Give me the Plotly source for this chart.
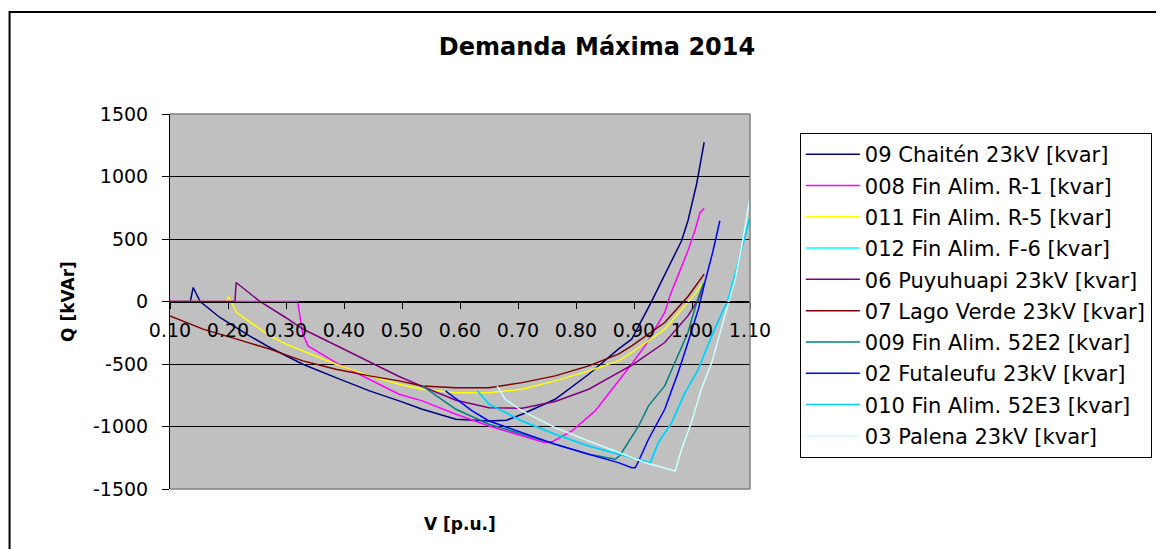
import plotly.graph_objects as go

# ---------------- data ----------------
names = [
    "09 Chaitén 23kV [kvar]",
    "008 Fin Alim. R-1 [kvar]",
    "011 Fin Alim. R-5 [kvar]",
    "012 Fin Alim. F-6 [kvar]",
    "06 Puyuhuapi 23kV [kvar]",
    "07 Lago Verde 23kV [kvar]",
    "009 Fin Alim. 52E2 [kvar]",
    "02 Futaleufu 23kV [kvar]",
    "010 Fin Alim. 52E3 [kvar]",
    "03 Palena 23kV [kvar]",
]
colors = ["#000080", "#FF00FF", "#FFFF00", "#00FFFF", "#800080",
          "#800000", "#008080", "#0000FF", "#00CCFF", "#CCFFFF"]

chaiten_v = [0.10, 0.135, 0.140, 0.152, 0.186, 0.237, 0.272, 0.329, 0.386, 0.444, 0.495, 0.535,
             0.593, 0.650, 0.680, 0.707, 0.764, 0.822, 0.873, 0.896, 0.928, 0.959, 0.982, 0.993,
             1.008, 1.021]
chaiten_q = [0, 0, 112, 0, -128, -275, -368, -502, -609, -715, -795, -862,
             -942, -956, -950, -902, -782, -582, -381, -301, -21, 272, 486, 646,
             940, 1274]

r1_v = [0.10, 0.320, 0.329, 0.338, 0.386, 0.444, 0.495, 0.535, 0.593, 0.650, 0.707, 0.747,
        0.760, 0.793, 0.833, 0.873, 0.896, 0.919, 0.953, 0.962, 0.979, 0.993, 1.005, 1.014, 1.021]
r1_q = [0, 0, -261, -355, -489, -622, -742, -795, -902, -996, -1076, -1129,
        -1120, -1036, -875, -640, -500, -355, -88, 46, 246, 406, 566, 713, 745]

r5_v = [0.10, 0.198, 0.201, 0.215, 0.243, 0.272, 0.300, 0.329, 0.386, 0.444, 0.495, 0.535,
        0.593, 0.650, 0.707, 0.764, 0.822, 0.873, 0.896, 0.953, 0.993, 1.005, 1.019]
r5_q = [0, 0, 40, -88, -181, -275, -341, -395, -502, -595, -662, -702,
        -729, -729, -702, -635, -555, -475, -408, -221, -8, 59, 152]

f6_v = [0.630, 0.650, 0.707, 0.764, 0.822, 0.873, 0.928, 0.942, 0.965, 0.988, 1.011, 1.034,
        1.057, 1.060, 1.079, 1.099]
f6_q = [-715, -822, -956, -1062, -1156, -1222, -1289, -1129, -969, -729, -542, -275,
        -34, -21, 299, 660]

puyu_v = [0.10, 0.212, 0.214, 0.255, 0.300, 0.329, 0.386, 0.444, 0.495, 0.535, 0.593, 0.650,
          0.707, 0.764, 0.822, 0.873, 0.896, 0.953, 0.993, 1.011, 1.020]
puyu_q = [0, 0, 152, 0, -130, -220, -350, -480, -600, -680, -790, -850,
          -854, -800, -702, -569, -510, -328, -115, 19, 130]

lago_v = [0.10, 0.157, 0.215, 0.272, 0.329, 0.386, 0.444, 0.495, 0.535, 0.593, 0.650, 0.707,
          0.764, 0.822, 0.873, 0.896, 0.953, 0.993, 1.021]
lago_q = [-115, -221, -301, -381, -475, -542, -595, -635, -675, -689, -689, -649,
          -595, -515, -421, -355, -168, 40, 219]

e2_v = [0.535, 0.564, 0.593, 0.650, 0.707, 0.764, 0.822, 0.868, 0.876, 0.908, 0.925, 0.953,
        0.976, 0.993, 1.008, 1.020]
e2_q = [-675, -769, -862, -982, -1062, -1142, -1222, -1262, -1230, -996, -835, -675,
        -435, -248, -8, 150]

futa_v = [0.575, 0.621, 0.650, 0.707, 0.764, 0.822, 0.873, 0.896, 0.902, 0.908, 0.925, 0.953,
          0.976, 0.993, 1.011, 1.022, 1.036, 1.048]
futa_q = [-715, -875, -956, -1049, -1142, -1222, -1289, -1329, -1329, -1276, -1102, -862,
          -569, -328, -61, 150, 400, 646]

e3_v = [0.630, 0.650, 0.707, 0.764, 0.822, 0.873, 0.928, 0.942, 0.965, 0.988, 1.011, 1.034,
        1.057, 1.060, 1.079, 1.099]
e3_q = [-715, -822, -956, -1062, -1156, -1222, -1289, -1129, -969, -729, -542, -275,
        -34, -21, 299, 660]

palena_v = [0.664, 0.678, 0.707, 0.764, 0.822, 0.873, 0.920, 0.971, 0.982, 0.999, 1.016, 1.034,
            1.051, 1.060, 1.074, 1.085, 1.099]
palena_q = [-675, -782, -875, -1009, -1116, -1209, -1290, -1356, -1182, -969, -702, -489,
            -220, -60, 170, 420, 806]

series_v = [chaiten_v, r1_v, r5_v, f6_v, puyu_v, lago_v, e2_v, futa_v, e3_v, palena_v]
series_q = [chaiten_q, r1_q, r5_q, f6_q, puyu_q, lago_q, e2_q, futa_q, e3_q, palena_q]

x_ticks = [0.10, 0.20, 0.30, 0.40, 0.50, 0.60, 0.70, 0.80, 0.90, 1.00, 1.10]
y_ticks = [-1500, -1000, -500, 0, 500, 1000, 1500]
y_tick_text = ["-1500", "-1000", "-500", "0", "500", "1000", "1500"]

FONT = "DejaVu Sans"

# figure is placed by the page at an 8 px body offset
FIG_W, FIG_H = 1156, 541
ML, MT, PW, PH = 162, 106, 582, 375


def px_x(page_x):
    return (page_x - 8 - ML) / PW


def px_y(page_y):
    return (MT + PH - (page_y - 8)) / PH


fig = go.Figure()
for name, col, vv, qq in zip(names, colors, series_v, series_q):
    fig.add_trace(go.Scatter(x=vv, y=qq, mode="lines", name=name, legendgroup=name,
                             line=dict(color=col, width=1.5)))

fig.update_layout(
    width=FIG_W, height=FIG_H,
    margin=dict(l=ML, r=FIG_W - ML - PW, t=MT, b=FIG_H - MT - PH, pad=0),
    paper_bgcolor="white",
    plot_bgcolor="#C0C0C0",
    font=dict(family=FONT, size=19, color="black"),
    title=dict(text="<b>Demanda Máxima 2014</b>", x=(597 - 8) / FIG_W, xref="container",
               y=1 - (47 - 8) / FIG_H, yref="container", xanchor="center", yanchor="middle",
               font=dict(family=FONT, size=24, color="black")),
    showlegend=True,
    legend=dict(x=px_x(802), xanchor="left", y=px_y(133), yanchor="top",
                bgcolor="white", bordercolor="black", borderwidth=1,
                font=dict(family=FONT, size=21, color="black"),
                itemwidth=54, tracegroupgap=1),
    xaxis=dict(range=[0.1, 1.1], tickvals=x_ticks, tickformat=".2f",
               showgrid=False, zeroline=False, showline=True, linecolor="black", linewidth=1,
               ticks="outside", ticklen=6, tickcolor="black",
               anchor="free", position=0.5, ticklabelstandoff=6,
               tickfont=dict(family=FONT, size=19, color="black")),
    yaxis=dict(range=[-1500, 1500], tickvals=y_ticks, ticktext=y_tick_text,
               showgrid=True, gridcolor="black", gridwidth=1,
               zeroline=True, zerolinecolor="black", zerolinewidth=1,
               showline=True, linecolor="black", linewidth=1,
               ticks="outside", ticklen=7, tickcolor="black", ticklabelstandoff=10,
               tickfont=dict(family=FONT, size=19, color="black"),
               title=dict(text="<b>Q [kVAr]</b>", standoff=14,
                          font=dict(family=FONT, size=17, color="black"))),
)

# x-axis title (axis itself sits at Q = 0, title sits below the plot)
fig.add_annotation(text="<b>V [p.u.]</b>", xref="paper", yref="paper",
                   x=px_x(461), y=px_y(524), xanchor="center", yanchor="middle",
                   showarrow=False, font=dict(family=FONT, size=17, color="black"))

# grey frame on top/right/bottom of plot area
for x0, y0, x1, y1 in [(0, 1, 1, 1), (1, 0, 1, 1), (0, 0, 1, 0)]:
    fig.add_shape(type="line", xref="paper", yref="paper", x0=x0, y0=y0, x1=x1, y1=y1,
                  line=dict(color="#808080", width=1.5), layer="above")

# outer chart border
fig.add_shape(type="rect", xref="paper", yref="paper",
              x0=px_x(9), x1=px_x(1162.5), y0=px_y(570), y1=px_y(12),
              line=dict(color="black", width=2), fillcolor="rgba(0,0,0,0)", layer="below")

fig.write_html("out.html")
